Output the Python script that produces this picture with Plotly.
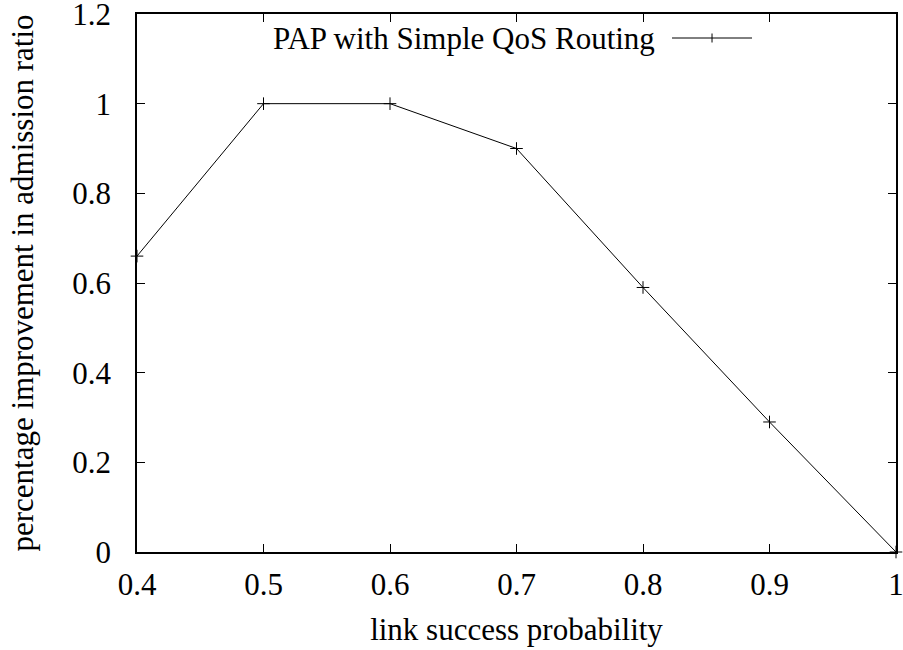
import plotly.graph_objects as go

link_prob = [0.4, 0.5, 0.6, 0.7, 0.8, 0.9, 1.0]
improvement = [0.66, 1.0, 1.0, 0.9, 0.59, 0.29, 0.0]
series_name = "PAP with Simple QoS Routing"
x_ticks = [0.4, 0.5, 0.6, 0.7, 0.8, 0.9, 1.0]
x_tick_labels = ["0.4", "0.5", "0.6", "0.7", "0.8", "0.9", "1"]
y_ticks = [0, 0.2, 0.4, 0.6, 0.8, 1.0, 1.2]
y_tick_labels = ["0", "0.2", "0.4", "0.6", "0.8", "1", "1.2"]

FONT = "'Liberation Serif', 'Times New Roman', Times, serif"
FS = 31

fig = go.Figure()
fig.add_trace(go.Scatter(
    x=link_prob, y=improvement, mode="lines+markers", name=series_name,
    line=dict(color="black", width=1),
    marker=dict(symbol="cross-thin", size=9, line=dict(color="black", width=1)),
    cliponaxis=False, showlegend=False,
))

axis_common = dict(
    showgrid=False, zeroline=False, showline=True, linecolor="black", linewidth=1.5,
    mirror="ticks", ticks="inside", ticklen=8, tickwidth=1, tickcolor="black",
    tickfont=dict(family=FONT, size=FS, color="black"),
    automargin=False, ticklabeloverflow="allow",
)

fig.update_layout(
    width=903, height=650,
    margin=dict(l=137, r=7, t=14, b=98),
    paper_bgcolor="white", plot_bgcolor="white",
    font=dict(family=FONT, size=FS, color="black"),
    xaxis=dict(range=[0.4, 1.0], tickvals=x_ticks, ticktext=x_tick_labels,
               title=dict(text="link success probability", standoff=17,
                          font=dict(family=FONT, size=FS, color="black")),
               ticklabelstandoff=4, **axis_common),
    yaxis=dict(range=[0, 1.2], tickvals=y_ticks, ticktext=y_tick_labels,
               title=dict(text="percentage improvement in admission ratio", standoff=29,
                          font=dict(family=FONT, size=FS, color="black")),
               ticklabelstandoff=18, **axis_common),
)

# legend (gnuplot style: text on the left, sample on the right)
ly = (552 - 38) / 538
fig.add_annotation(x=0.685, y=ly, xref="paper", yref="paper", text=series_name,
                   showarrow=False, xanchor="right", yanchor="middle",
                   font=dict(family=FONT, size=FS, color="black"))
fig.add_shape(type="line", xref="paper", yref="paper", x0=0.7049, x1=0.8103, y0=ly, y1=ly,
              line=dict(color="black", width=1))
fig.add_shape(type="line", xref="paper", yref="paper", x0=0.7576, x1=0.7576,
              y0=ly - 4.5 / 538, y1=ly + 4.5 / 538, line=dict(color="black", width=1))

fig.write_html("out.html", config={"displayModeBar": False},
               post_script="document.body.style.margin='0';document.body.style.overflow='hidden';")
